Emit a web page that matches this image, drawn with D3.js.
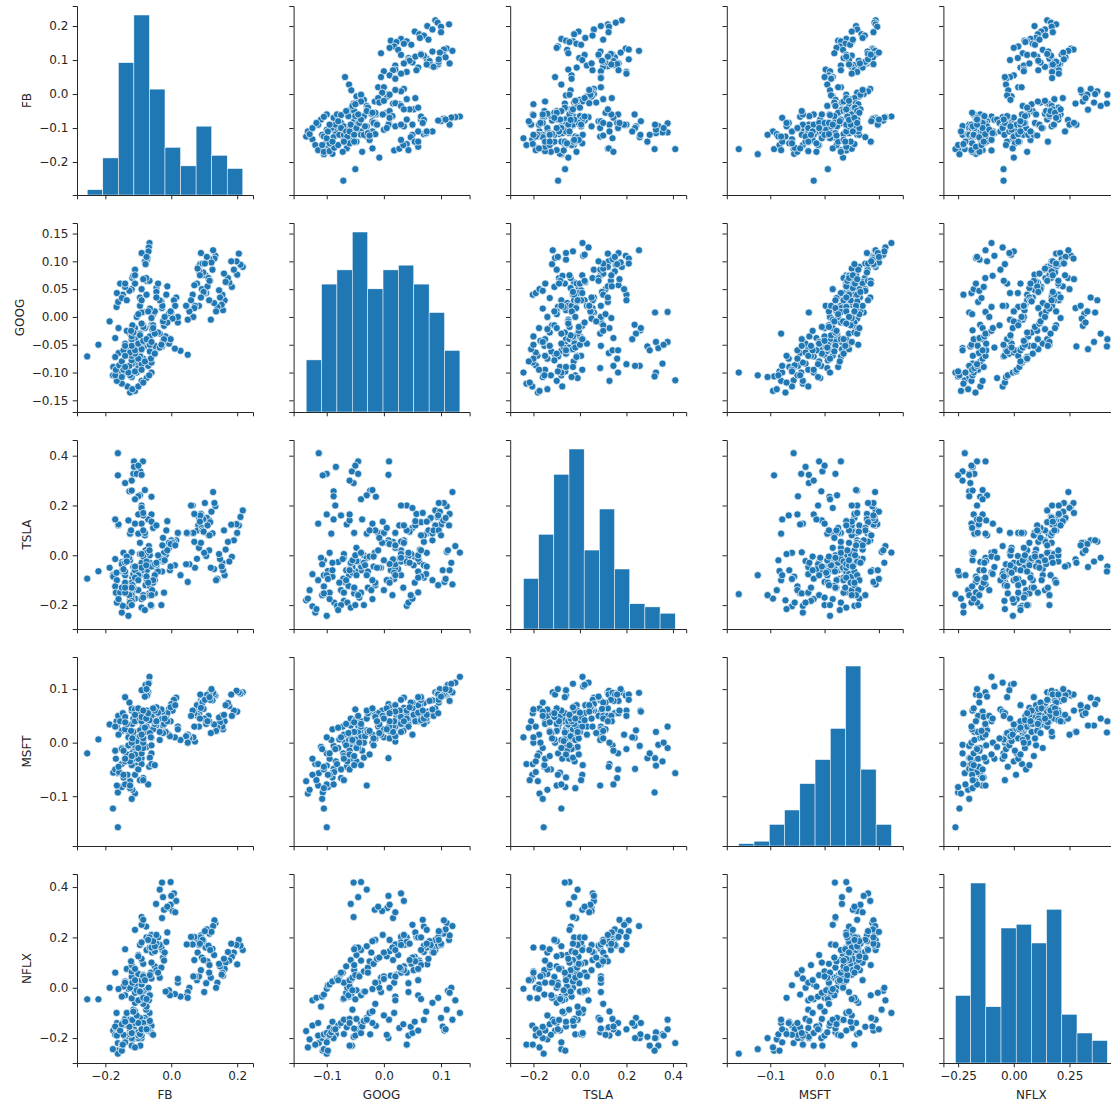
<!DOCTYPE html>
<html>
<head>
<meta charset="utf-8">
<script src="https://cdn.jsdelivr.net/npm/d3@7"></script>
<style>
  body { margin: 0; background: #fff; }
  text { font-family: "DejaVu Sans", sans-serif; font-size: 12px; fill: #262626; }
</style>
</head>
<body>
<svg id="chart" width="1111" height="1105"></svg>
<script>
const columns = ["FB", "GOOG", "TSLA", "MSFT", "NFLX"];

// every row is one observation: [FB, GOOG, TSLA, MSFT, NFLX]
const highTop = [
  [0.217, 0.090, 0.180, 0.094, 0.150], [0.210, 0.094, 0.154, 0.092, 0.167],
  [0.205, 0.114, 0.120, 0.094, 0.190], [0.200, 0.076, 0.090, 0.058, 0.093],
  [0.198, 0.100, 0.125, 0.097, 0.170], [0.190, 0.085, 0.060, 0.060, 0.140],
  [0.184, 0.054, -0.006, 0.050, 0.123], [0.182, 0.100, 0.123, 0.090, 0.175],
  [0.176, 0.062, -0.025, 0.068, 0.108], [0.172, 0.070, 0.054, 0.074, 0.142]
];
const highUpper = [
  [0.165, 0.063, 0.023, 0.070, 0.100], [0.162, 0.030, -0.080, 0.040, 0.075],
  [0.157, 0.012, -0.060, 0.025, 0.048], [0.155, 0.040, -0.030, 0.030, 0.060],
  [0.153, 0.022, -0.045, 0.050, 0.052], [0.148, 0.035, -0.015, 0.038, 0.085],
  [0.140, 0.018, -0.095, 0.028, 0.020], [0.136, 0.010, -0.100, 0.022, 0.000],
  [0.134, 0.110, 0.197, 0.088, 0.257], [0.131, 0.105, 0.210, 0.090, 0.268],
  [0.130, 0.025, -0.055, 0.034, 0.130], [0.127, 0.120, 0.254, 0.093, 0.245],
  [0.145, 0.048, 0.005, 0.047, 0.095], [0.160, 0.078, 0.100, 0.052, 0.115],
  [0.125, 0.085, 0.088, 0.079, 0.155]
];
const highMid = [
  [0.090, 0.115, 0.166, 0.078, 0.208], [0.116, 0.104, 0.140, 0.093, 0.215],
  [0.082, 0.090, 0.120, 0.064, 0.190], [0.104, 0.075, 0.010, 0.040, 0.160],
  [0.120, -0.005, -0.050, 0.018, 0.040], [0.078, 0.060, -0.014, 0.070, 0.030],
  [0.108, 0.108, 0.150, 0.089, 0.232], [0.097, 0.080, 0.145, 0.078, 0.185],
  [0.122, 0.098, 0.175, 0.100, 0.222], [0.085, 0.082, 0.150, 0.055, 0.170],
  [0.113, 0.070, 0.080, 0.050, 0.167], [0.088, 0.095, 0.160, 0.090, 0.200],
  [0.118, 0.065, 0.133, 0.080, 0.150], [0.080, 0.087, 0.100, 0.050, 0.140],
  [0.106, 0.043, -0.003, 0.035, 0.018], [0.093, 0.050, 0.110, 0.075, 0.120],
  [0.115, 0.030, 0.020, 0.040, 0.060], [0.100, 0.043, 0.010, 0.045, -0.017],
  [0.084, 0.020, 0.030, 0.030, 0.045], [0.110, 0.055, 0.120, 0.040, 0.105],
  [0.095, 0.096, 0.100, 0.075, 0.190], [0.087, 0.075, 0.135, 0.045, 0.175],
  [0.102, 0.096, 0.210, 0.080, 0.225], [0.116, 0.065, 0.080, 0.085, 0.090],
  [0.098, 0.045, 0.095, 0.063, 0.110], [0.090, 0.035, 0.050, 0.065, 0.070]
];
const highLow = [
  [0.072, 0.020, -0.050, 0.002, 0.045], [0.070, 0.016, 0.054, 0.030, 0.110],
  [0.070, 0.057, 0.166, 0.055, 0.202], [0.067, 0.000, 0.090, 0.010, 0.045],
  [0.065, 0.040, 0.200, 0.060, 0.172], [0.060, 0.030, 0.200, 0.050, 0.202],
  [0.055, 0.010, -0.036, 0.008, 0.000], [0.050, -0.005, 0.090, 0.015, -0.017],
  [0.047, 0.020, 0.090, 0.012, 0.172], [0.045, 0.020, -0.036, 0.012, -0.035]
];
const branch = [
  [0.050, -0.068, -0.107, 0.000, -0.040], [0.028, -0.061, -0.080, 0.005, -0.035],
  [0.011, -0.057, -0.040, 0.010, -0.025], [-0.007, -0.048, 0.030, 0.015, -0.010],
  [-0.004, -0.040, -0.060, 0.012, -0.030], [-0.017, -0.035, 0.000, 0.020, -0.015],
  [0.020, -0.010, 0.090, 0.030, 0.020], [0.020, 0.000, 0.090, 0.025, 0.035]
];
const netflixHigh = [
  [0.015, 0.035, 0.060, 0.084, 0.345], [0.008, 0.030, 0.055, 0.080, 0.375],
  [0.000, 0.008, 0.060, 0.072, 0.365], [-0.007, 0.006, 0.050, 0.063, 0.317],
  [0.004, -0.003, 0.050, 0.060, 0.305], [-0.002, 0.010, 0.045, 0.066, 0.330],
  [-0.022, -0.016, 0.010, 0.052, 0.310], [-0.012, -0.010, 0.020, 0.055, 0.322],
  [-0.002, -0.040, -0.045, 0.040, 0.420], [-0.028, -0.053, -0.065, 0.019, 0.418],
  [-0.025, -0.045, -0.025, 0.032, 0.360], [-0.046, -0.058, -0.047, 0.032, 0.333],
  [-0.028, 0.016, -0.016, 0.020, 0.277], [-0.090, -0.053, -0.030, 0.020, 0.281],
  [0.012, 0.020, 0.040, 0.070, 0.300], [-0.035, -0.030, -0.010, 0.045, 0.390]
];
const googleHigh = [
  [-0.066, 0.133, 0.011, 0.123, -0.100], [-0.070, 0.120, -0.117, 0.094, -0.127],
  [-0.072, 0.106, -0.107, 0.090, -0.170], [-0.076, 0.110, 0.014, 0.105, -0.087],
  [-0.068, 0.125, 0.037, 0.112, -0.050], [-0.074, 0.103, -0.060, 0.088, -0.154],
  [-0.078, 0.112, 0.020, 0.108, -0.012], [-0.069, 0.118, -0.030, 0.110, 0.000],
  [-0.080, 0.100, 0.080, 0.086, -0.120]
];
const teslaHigh = [
  [-0.162, -0.114, 0.410, -0.057, -0.220], [-0.086, 0.009, 0.377, 0.030, -0.127],
  [-0.113, -0.045, 0.377, -0.010, -0.165], [-0.113, -0.084, 0.355, -0.035, -0.185],
  [-0.094, -0.056, 0.337, -0.004, -0.230], [-0.115, -0.045, 0.327, 0.020, -0.177],
  [-0.105, -0.100, 0.327, -0.043, -0.200], [-0.162, -0.107, 0.321, -0.093, -0.250],
  [-0.090, 0.008, 0.323, -0.029, -0.200], [-0.140, -0.053, 0.290, -0.029, -0.195],
  [-0.127, -0.088, 0.257, -0.006, -0.200], [-0.120, -0.024, 0.260, 0.060, -0.185],
  [-0.095, -0.030, 0.241, 0.023, -0.120], [-0.060, -0.014, 0.235, 0.009, -0.151],
  [-0.100, -0.088, 0.237, -0.049, -0.200], [-0.080, -0.020, 0.262, 0.058, -0.140],
  [-0.120, -0.060, 0.300, -0.020, -0.230], [-0.100, -0.050, 0.360, 0.000, -0.190],
  [-0.110, -0.040, 0.225, 0.010, -0.140]
];
const crash = [
  [-0.162, -0.100, -0.156, -0.158, -0.262], [-0.177, -0.105, -0.080, -0.123, -0.244],
  [-0.150, -0.098, -0.063, -0.083, -0.250]
];
const outliers = [
  [-0.255, -0.071, -0.094, -0.020, -0.046], [-0.221, -0.050, -0.064, 0.006, -0.046],
  [-0.187, -0.008, -0.050, 0.034, 0.000], [-0.176, -0.090, -0.086, -0.056, -0.170],
  [-0.166, 0.018, -0.070, 0.040, -0.100], [-0.161, 0.027, 0.120, 0.050, -0.160]
];
const lowA = [
  [-0.125, -0.136, -0.181, -0.072, -0.172], [-0.110, -0.133, -0.174, -0.095, -0.237],
  [-0.133, -0.125, -0.205, -0.060, -0.150], [-0.118, -0.130, -0.140, -0.088, -0.205],
  [-0.150, -0.120, -0.230, -0.040, -0.226], [-0.165, -0.115, -0.100, -0.080, -0.140],
  [-0.120, -0.108, -0.160, -0.105, -0.200], [-0.170, -0.105, -0.125, -0.050, -0.187],
  [-0.140, -0.100, -0.080, -0.078, -0.217], [-0.168, -0.095, -0.150, -0.030, -0.160],
  [-0.145, -0.090, -0.060, -0.065, -0.135], [-0.158, -0.087, -0.190, -0.055, -0.165]
];
const lowB = [
  [-0.090, -0.115, 0.127, -0.040, -0.190], [-0.125, -0.105, -0.020, -0.085, -0.185],
  [-0.060, -0.100, 0.164, -0.020, -0.180], [-0.145, -0.095, 0.010, -0.060, -0.187],
  [-0.100, -0.092, 0.087, 0.005, -0.177], [-0.070, -0.088, 0.144, -0.078, -0.165],
  [-0.150, -0.080, -0.027, -0.010, -0.150], [-0.085, -0.075, 0.160, -0.066, -0.140],
  [-0.128, -0.070, -0.010, 0.015, -0.127], [-0.160, -0.065, 0.124, -0.045, -0.157],
  [-0.095, -0.070, 0.005, -0.070, -0.184], [-0.130, -0.060, 0.140, -0.005, -0.124],
  [-0.115, -0.055, -0.047, -0.030, -0.087], [-0.080, -0.052, 0.090, 0.020, -0.162],
  [-0.100, -0.060, 0.164, -0.050, -0.140], [-0.140, -0.048, -0.023, -0.035, -0.124],
  [-0.055, 0.005, 0.110, 0.025, -0.187], [-0.120, -0.040, 0.012, -0.042, -0.180],
  [-0.170, -0.038, 0.144, -0.015, -0.154], [-0.065, -0.035, -0.030, -0.028, -0.132],
  [-0.125, -0.030, 0.087, -0.080, -0.127], [-0.090, -0.085, 0.200, -0.012, -0.165],
  [-0.135, -0.025, -0.005, -0.022, -0.100], [-0.110, -0.020, 0.127, 0.000, -0.094],
  [-0.075, -0.110, -0.010, -0.008, -0.075], [-0.085, -0.015, 0.100, 0.008, -0.064]
];
const lowC = [
  [-0.147, 0.040, -0.203, 0.055, -0.226], [-0.165, 0.043, -0.190, 0.030, -0.190],
  [-0.120, 0.050, -0.174, 0.064, -0.180], [-0.155, 0.060, -0.149, 0.040, -0.170],
  [-0.127, 0.047, -0.160, 0.075, -0.155], [-0.150, 0.034, -0.130, 0.022, -0.145],
  [-0.140, 0.054, -0.110, 0.048, -0.135], [-0.118, 0.070, -0.090, 0.035, -0.128],
  [-0.105, 0.000, -0.140, 0.050, -0.110], [-0.115, 0.074, -0.075, 0.045, -0.095],
  [-0.110, 0.085, -0.100, 0.062, -0.060], [-0.095, 0.020, -0.080, 0.058, -0.050],
  [-0.140, 0.060, -0.065, 0.085, -0.030], [-0.078, 0.095, -0.120, 0.055, -0.040],
  [-0.090, 0.115, -0.060, 0.098, -0.020], [-0.075, 0.108, -0.095, 0.100, -0.165]
];
const lowD = [
  [-0.100, -0.125, -0.076, -0.030, -0.050], [-0.085, -0.118, -0.216, -0.070, -0.040],
  [-0.150, -0.108, -0.036, -0.012, -0.035], [-0.067, -0.105, -0.153, -0.045, -0.027],
  [-0.130, -0.100, -0.243, 0.010, -0.004], [-0.110, -0.098, -0.095, -0.060, 0.010],
  [-0.090, -0.095, -0.176, -0.020, 0.013], [-0.140, -0.090, -0.030, 0.025, 0.025],
  [-0.060, -0.082, -0.203, -0.040, 0.037], [-0.120, -0.078, -0.110, 0.006, 0.043],
  [-0.100, -0.075, -0.140, -0.050, 0.055], [-0.170, -0.072, -0.015, 0.030, 0.060],
  [-0.120, -0.070, -0.183, -0.025, -0.042], [-0.110, -0.066, -0.060, -0.005, -0.020],
  [-0.125, -0.064, -0.190, -0.035, 0.000], [-0.065, -0.062, -0.123, 0.018, -0.030],
  [-0.145, -0.060, -0.056, -0.015, 0.005], [-0.090, -0.058, -0.210, 0.040, 0.030],
  [-0.105, -0.055, -0.070, 0.003, -0.010], [-0.050, -0.052, -0.153, -0.042, 0.070],
  [-0.135, 0.030, -0.025, 0.035, 0.075], [-0.085, -0.045, -0.160, -0.010, 0.050],
  [-0.075, 0.065, -0.085, 0.050, -0.045], [-0.120, -0.035, -0.200, 0.000, 0.065],
  [-0.095, -0.033, -0.040, 0.012, -0.015], [-0.115, -0.028, -0.130, 0.020, 0.080],
  [-0.160, -0.020, -0.176, 0.015, -0.005], [-0.118, -0.015, -0.120, 0.008, 0.020]
];
const lowE = [
  [-0.062, -0.075, -0.200, 0.010, 0.060], [-0.140, -0.070, -0.150, -0.030, 0.020],
  [-0.050, -0.066, -0.100, 0.035, 0.085], [-0.110, -0.060, -0.060, -0.022, 0.030],
  [-0.090, -0.058, -0.030, 0.045, 0.110], [-0.035, -0.055, -0.020, 0.005, 0.040],
  [-0.120, -0.052, -0.130, -0.025, 0.090], [-0.065, -0.050, 0.000, 0.042, 0.050],
  [-0.100, -0.048, -0.080, -0.010, 0.130], [-0.045, 0.052, -0.040, 0.052, 0.070],
  [-0.085, -0.043, -0.170, 0.000, 0.045], [-0.075, -0.040, 0.010, 0.030, 0.150],
  [-0.110, 0.060, -0.090, 0.040, 0.075], [-0.030, 0.028, -0.012, 0.060, 0.080],
  [-0.095, 0.035, 0.050, 0.045, 0.170], [-0.060, -0.018, -0.045, -0.005, 0.100],
  [-0.040, -0.028, -0.065, 0.055, 0.060], [-0.122, -0.025, 0.100, 0.022, 0.105],
  [-0.058, -0.022, -0.140, 0.062, 0.140], [-0.085, -0.018, -0.005, 0.008, 0.095],
  [-0.055, -0.015, -0.110, 0.048, 0.190], [-0.090, -0.012, -0.050, 0.040, 0.115],
  [-0.025, -0.008, 0.070, 0.018, 0.120], [-0.080, -0.080, -0.220, 0.028, 0.030],
  [-0.060, -0.002, 0.135, 0.050, 0.210], [-0.100, 0.005, -0.100, 0.064, 0.125],
  [-0.050, 0.010, -0.035, 0.040, 0.145], [-0.065, 0.015, -0.160, 0.058, 0.160],
  [-0.090, 0.030, 0.005, 0.048, 0.180], [-0.075, 0.040, -0.025, 0.060, 0.200]
];
const lowF = [
  [-0.027, 0.020, 0.040, 0.058, 0.150], [-0.022, -0.040, -0.150, 0.035, 0.108],
  [-0.015, 0.040, 0.100, 0.045, 0.182], [-0.012, 0.055, 0.137, 0.040, 0.220],
  [-0.030, -0.050, -0.200, 0.062, 0.160], [-0.035, 0.030, -0.010, 0.020, 0.170],
  [-0.040, 0.060, 0.000, 0.056, 0.200], [-0.060, -0.045, -0.160, 0.050, 0.160],
  [-0.045, 0.045, -0.030, 0.066, 0.175], [-0.066, 0.065, 0.020, 0.042, 0.200],
  [-0.050, -0.030, -0.080, 0.060, 0.165], [-0.076, 0.070, -0.040, 0.045, 0.243],
  [-0.055, -0.020, -0.100, 0.064, 0.185], [-0.140, -0.052, -0.130, 0.038, 0.153],
  [-0.110, 0.075, -0.045, 0.052, 0.230], [-0.090, 0.050, 0.190, 0.015, 0.250],
  [-0.070, 0.010, -0.110, 0.055, 0.190], [-0.045, 0.035, 0.120, 0.040, 0.210],
  [-0.020, 0.000, -0.020, 0.045, 0.140], [-0.085, 0.068, 0.170, 0.060, 0.270]
];

// axis limits and ticks for each variable
const limitsX = [[-0.286, 0.248], [-0.158, 0.150], [-0.300, 0.457], [-0.180, 0.144], [-0.316, 0.474]];
const limitsY = [[-0.297, 0.259], [-0.171, 0.169], [-0.296, 0.463], [-0.193, 0.160], [-0.299, 0.452]];
const ticksX = [[-0.2, 0, 0.2], [-0.1, 0, 0.1], [-0.2, 0, 0.2, 0.4], [-0.1, 0, 0.1], [-0.25, 0, 0.25]];
const ticksY = [[-0.2, -0.1, 0, 0.1, 0.2], [-0.15, -0.1, -0.05, 0, 0.05, 0.1, 0.15],
                [-0.2, 0, 0.2, 0.4], [-0.1, 0, 0.1], [-0.2, 0, 0.2, 0.4]];
const decimalsX = [1, 1, 1, 1, 2];
const decimalsY = [1, 2, 1, 1, 1];

const rows = [].concat(highTop, highUpper, highMid, highLow, branch, netflixHigh,
  googleHigh, teslaHigh, crash, outliers, lowA, lowB, lowC, lowD, lowE, lowF);
const values = columns.map((c, i) => rows.map(r => r[i]));

const blue = "#1f77b4", ink = "#262626";
const left0 = 77, top0 = 6, stepX = 216.6, stepY = 217, w = 176, h = 189;
const tickLen = 4.3, tickPad = 4.3;

const svg = d3.select("#chart");

columns.forEach((rowName, i) => {
  columns.forEach((colName, j) => {
    const g = svg.append("g")
      .attr("transform", "translate(" + (left0 + j * stepX) + "," + (top0 + i * stepY) + ")");
    const x = d3.scaleLinear().domain(limitsX[j]).range([0, w]);
    const y = d3.scaleLinear().domain(limitsY[i]).range([h, 0]);

    if (i === j) {
      // diagonal: 10 equal bins between the variable's min and max
      const [a, b] = d3.extent(values[j]);
      const edges = d3.range(1, 10).map(k => a + k * (b - a) / 10);
      const bins = d3.bin().domain([a, b]).thresholds(edges)(values[j]);
      const yh = d3.scaleLinear()
        .domain([0, d3.max(bins, d => d.length) * 1.05])
        .range([h, 0]);
      g.append("g").selectAll("rect")
        .data(bins)
        .enter().append("rect")
        .attr("x", d => x(d.x0))
        .attr("width", d => x(d.x1) - x(d.x0))
        .attr("y", d => yh(d.length))
        .attr("height", d => h - yh(d.length))
        .attr("fill", blue)
        .attr("stroke", "#fff")
        .attr("stroke-width", 0.5);
    } else {
      g.append("g").selectAll("circle")
        .data(rows)
        .enter().append("circle")
        .attr("cx", d => x(d[j]))
        .attr("cy", d => y(d[i]))
        .attr("r", 3.6)
        .attr("fill", blue)
        .attr("stroke", "#fff")
        .attr("stroke-width", 0.7);
    }

    const fx = d3.format("." + decimalsX[j] + "f");
    const fy = d3.format("." + decimalsY[i] + "f");

    const ax = g.append("g")
      .attr("transform", "translate(0," + h + ")")
      .call(d3.axisBottom(x).tickValues(ticksX[j]).tickSizeOuter(0)
        .tickSize(tickLen).tickPadding(tickPad)
        .tickFormat(i === columns.length - 1 ? fx : () => ""));
    const ay = g.append("g")
      .call(d3.axisLeft(y).tickValues(ticksY[i]).tickSizeOuter(0)
        .tickSize(tickLen).tickPadding(tickPad)
        .tickFormat(j === 0 ? fy : () => ""));

    [ax, ay].forEach(a => {
      a.select(".domain").attr("stroke", ink).attr("stroke-width", 1);
      a.selectAll(".tick line").attr("stroke", ink).attr("stroke-width", 1);
      a.selectAll(".tick text").attr("fill", ink)
        .style("font-family", '"DejaVu Sans", sans-serif').style("font-size", "12px");
    });

    if (i === columns.length - 1) {
      g.append("text")
        .attr("x", w / 2)
        .attr("y", h + 36)
        .attr("text-anchor", "middle")
        .text(colName);
    }
    if (j === 0) {
      let maxW = 0;
      ay.selectAll(".tick text").each(function () {
        maxW = Math.max(maxW, this.getComputedTextLength());
      });
      const xr = -(tickLen + tickPad + maxW + 5) - 3;
      g.append("text")
        .attr("transform", "translate(" + xr + "," + (h / 2) + ") rotate(-90)")
        .attr("text-anchor", "middle")
        .text(rowName);
    }
  });
});
</script>
</body>
</html>
